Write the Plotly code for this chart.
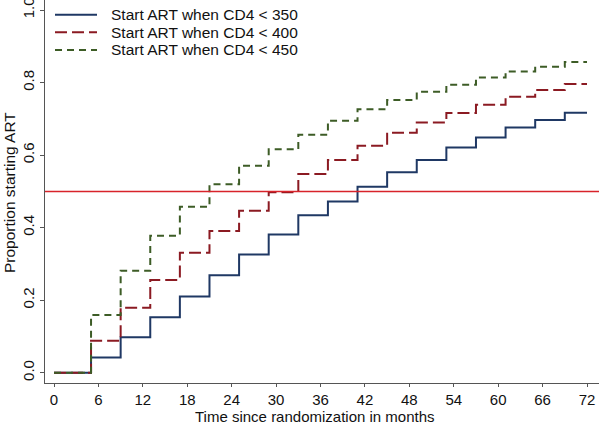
import plotly.graph_objects as go

months = [0, 5, 9, 13, 17, 21, 25, 29, 33, 37, 41, 45, 49, 53, 57, 61, 65, 69, 72]
cd4_350 = [0.0, 0.042, 0.098, 0.153, 0.210, 0.269, 0.326, 0.381, 0.434, 0.472, 0.513,
           0.553, 0.587, 0.621, 0.649, 0.676, 0.697, 0.717, 0.717]
cd4_400 = [0.0, 0.088, 0.179, 0.256, 0.331, 0.391, 0.447, 0.498, 0.548, 0.587, 0.626,
           0.662, 0.690, 0.716, 0.739, 0.761, 0.780, 0.796, 0.796]
cd4_450 = [0.0, 0.159, 0.281, 0.378, 0.458, 0.520, 0.571, 0.616, 0.656, 0.695, 0.727,
           0.752, 0.775, 0.794, 0.814, 0.831, 0.844, 0.857, 0.857]
series_names = ["Start ART when CD4 < 350", "Start ART when CD4 < 400", "Start ART when CD4 < 450"]
threshold = 0.5
x_ticks = list(range(0, 73, 6))
y_ticks = [0.0, 0.2, 0.4, 0.6, 0.8, 1.0]
x_title = "Time since randomization in months"
y_title = "Proportion starting ART"

W, H = 600, 423
L, R, T, B = 45, 1, 0, 40
pw, ph = W - L - R, H - T - B


def px_x(px):
    return (px - L) / pw


def px_y(py):
    return (H - B - py) / ph


font = "Liberation Sans, Arial, sans-serif"
fig = go.Figure()
styles = [("#1f3864", "solid"), ("#8b1a22", "12px,5px"), ("#3d5c26", "7px,5px")]
for name, vals, (col, dash) in zip(series_names, [cd4_350, cd4_400, cd4_450], styles):
    fig.add_trace(go.Scatter(x=months, y=vals, mode="lines", name=name, showlegend=False,
                             line=dict(shape="hv", color=col, width=2, dash=dash)))

fig.add_shape(type="line", xref="paper", x0=0, x1=1, yref="y", y0=threshold, y1=threshold,
              line=dict(color="#d8232a", width=1.5))

# legend (drawn manually to match compact row spacing)
row_y = [14.7, 32.3, 50.0]
for name, (col, dash), ry in zip(series_names, styles, row_y):
    fig.add_shape(type="line", xref="paper", yref="paper", x0=px_x(55), x1=px_x(97),
                  y0=px_y(ry), y1=px_y(ry), line=dict(color=col, width=2, dash=dash))
    fig.add_annotation(text=name, xref="paper", yref="paper", x=px_x(109), y=px_y(ry),
                       xanchor="left", yanchor="middle", showarrow=False,
                       font=dict(size=15.5, family=font, color="#111"))

fig.add_annotation(text=x_title, xref="paper", yref="paper", x=px_x(315), y=px_y(416.5),
                   xanchor="center", yanchor="middle", showarrow=False,
                   font=dict(size=15, family=font, color="#111"))
fig.add_annotation(text=y_title, xref="paper", yref="paper", x=px_x(9), y=px_y(193),
                   xanchor="center", yanchor="middle", showarrow=False, textangle=-90,
                   font=dict(size=15.5, family=font, color="#111"))

fig.update_layout(
    width=W, height=H,
    margin=dict(l=L, r=R, t=T, b=B, autoexpand=False),
    paper_bgcolor="white", plot_bgcolor="white",
    font=dict(family=font, size=15, color="#111"),
    showlegend=False,
    xaxis=dict(range=[-1.22, 73.62], tickvals=x_ticks, showline=True, linecolor="#555",
               linewidth=1, ticks="outside", ticklen=3, tickcolor="#555", showgrid=False,
               zeroline=False, automargin=False, ticklabeloverflow="allow"),
    yaxis=dict(range=[-0.0284, 1.028], tickvals=y_ticks, tickformat=".1f", tickangle=-90,
               showline=True, linecolor="#555", linewidth=1, ticks="outside", ticklen=4,
               tickcolor="#555", showgrid=False, zeroline=False, automargin=False,
               ticklabeloverflow="allow"),
)
fig.write_html("out.html", config={"displayModeBar": False},
               post_script="document.body.style.margin='0';")
